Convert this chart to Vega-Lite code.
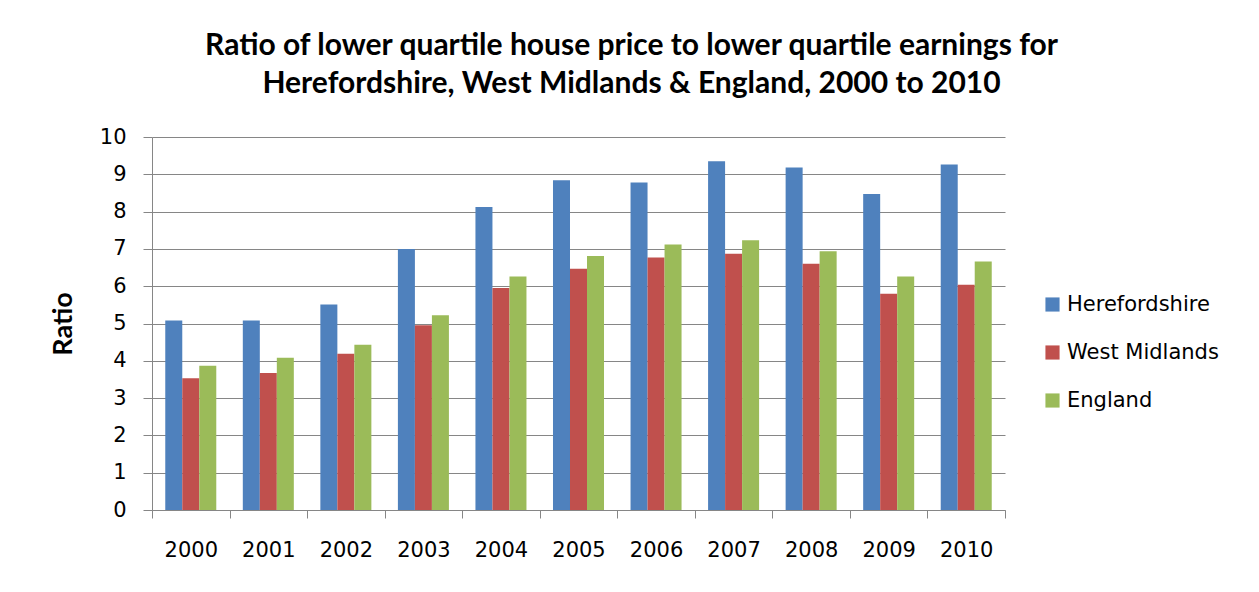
{
  "$schema": "https://vega.github.io/schema/vega-lite/v6.json",
  "autosize": "none",
  "width": 853,
  "height": 373,
  "padding": {"left": 152, "top": 137, "right": 254, "bottom": 82},
  "background": "white",
  "title": {
    "text": ["Ratio of lower quartile house price to lower quartile earnings for", "Herefordshire, West Midlands & England, 2000 to 2010"],
    "font": "Lato",
    "fontSize": 30,
    "fontWeight": "bold",
    "color": "#000000",
    "anchor": "middle",
    "dx": 53,
    "lineHeight": 38,
    "offset": 27
  },
  "data": {
    "values": [
      {"year": "2000", "area": "Herefordshire", "ratio": 5.08},
      {"year": "2000", "area": "West Midlands", "ratio": 3.53},
      {"year": "2000", "area": "England", "ratio": 3.87},
      {"year": "2001", "area": "Herefordshire", "ratio": 5.08},
      {"year": "2001", "area": "West Midlands", "ratio": 3.67},
      {"year": "2001", "area": "England", "ratio": 4.08},
      {"year": "2002", "area": "Herefordshire", "ratio": 5.51},
      {"year": "2002", "area": "West Midlands", "ratio": 4.19},
      {"year": "2002", "area": "England", "ratio": 4.43},
      {"year": "2003", "area": "Herefordshire", "ratio": 7.0},
      {"year": "2003", "area": "West Midlands", "ratio": 4.95},
      {"year": "2003", "area": "England", "ratio": 5.22},
      {"year": "2004", "area": "Herefordshire", "ratio": 8.12},
      {"year": "2004", "area": "West Midlands", "ratio": 5.95},
      {"year": "2004", "area": "England", "ratio": 6.26},
      {"year": "2005", "area": "Herefordshire", "ratio": 8.84},
      {"year": "2005", "area": "West Midlands", "ratio": 6.47},
      {"year": "2005", "area": "England", "ratio": 6.81},
      {"year": "2006", "area": "Herefordshire", "ratio": 8.78},
      {"year": "2006", "area": "West Midlands", "ratio": 6.77},
      {"year": "2006", "area": "England", "ratio": 7.12},
      {"year": "2007", "area": "Herefordshire", "ratio": 9.35},
      {"year": "2007", "area": "West Midlands", "ratio": 6.87},
      {"year": "2007", "area": "England", "ratio": 7.23},
      {"year": "2008", "area": "Herefordshire", "ratio": 9.18},
      {"year": "2008", "area": "West Midlands", "ratio": 6.6},
      {"year": "2008", "area": "England", "ratio": 6.94},
      {"year": "2009", "area": "Herefordshire", "ratio": 8.47},
      {"year": "2009", "area": "West Midlands", "ratio": 5.8},
      {"year": "2009", "area": "England", "ratio": 6.26},
      {"year": "2010", "area": "Herefordshire", "ratio": 9.26},
      {"year": "2010", "area": "West Midlands", "ratio": 6.04},
      {"year": "2010", "area": "England", "ratio": 6.66}
    ]
  },
  "mark": {"type": "bar"},
  "encoding": {
    "x": {
      "field": "year",
      "type": "nominal",
      "scale": {"paddingInner": 0, "paddingOuter": 0},
      "axis": {
        "title": null,
        "labelAngle": 0,
        "labelFont": "DejaVu Sans",
        "labelFontSize": 21,
        "labelColor": "#000000",
        "labelPadding": 21,
        "tickBand": "extent",
        "tickSize": 8,
        "tickColor": "#868686",
        "domainColor": "#868686",
        "grid": false
      }
    },
    "xOffset": {
      "field": "area",
      "type": "nominal",
      "sort": ["Herefordshire", "West Midlands", "England"],
      "scale": {"paddingInner": 0, "paddingOuter": 0.78}
    },
    "y": {
      "field": "ratio",
      "type": "quantitative",
      "scale": {"domain": [0, 10], "nice": false},
      "axis": {
        "title": "Ratio",
        "titleFont": "Lato",
        "titleFontSize": 27,
        "titleFontWeight": "bold",
        "titleColor": "#000000",
        "titlePadding": 22,
        "values": [0, 1, 2, 3, 4, 5, 6, 7, 8, 9, 10],
        "labelFont": "DejaVu Sans",
        "labelFontSize": 21,
        "labelColor": "#000000",
        "labelPadding": 17,
        "tickSize": 9,
        "tickColor": "#868686",
        "domainColor": "#868686",
        "gridColor": "#868686",
        "gridWidth": 1
      }
    },
    "color": {
      "field": "area",
      "type": "nominal",
      "sort": ["Herefordshire", "West Midlands", "England"],
      "scale": {"domain": ["Herefordshire", "West Midlands", "England"], "range": ["#4F81BD", "#C0504D", "#9BBB59"]},
      "legend": {
        "title": null,
        "orient": "none",
        "legendX": 890,
        "legendY": 157,
        "symbolType": "square",
        "symbolSize": 200,
        "symbolStrokeWidth": 0,
        "labelFont": "DejaVu Sans",
        "labelFontSize": 21,
        "labelColor": "#000000",
        "labelOffset": 4,
        "rowPadding": 26
      }
    }
  },
  "config": {
    "view": {"stroke": null}
  }
}
